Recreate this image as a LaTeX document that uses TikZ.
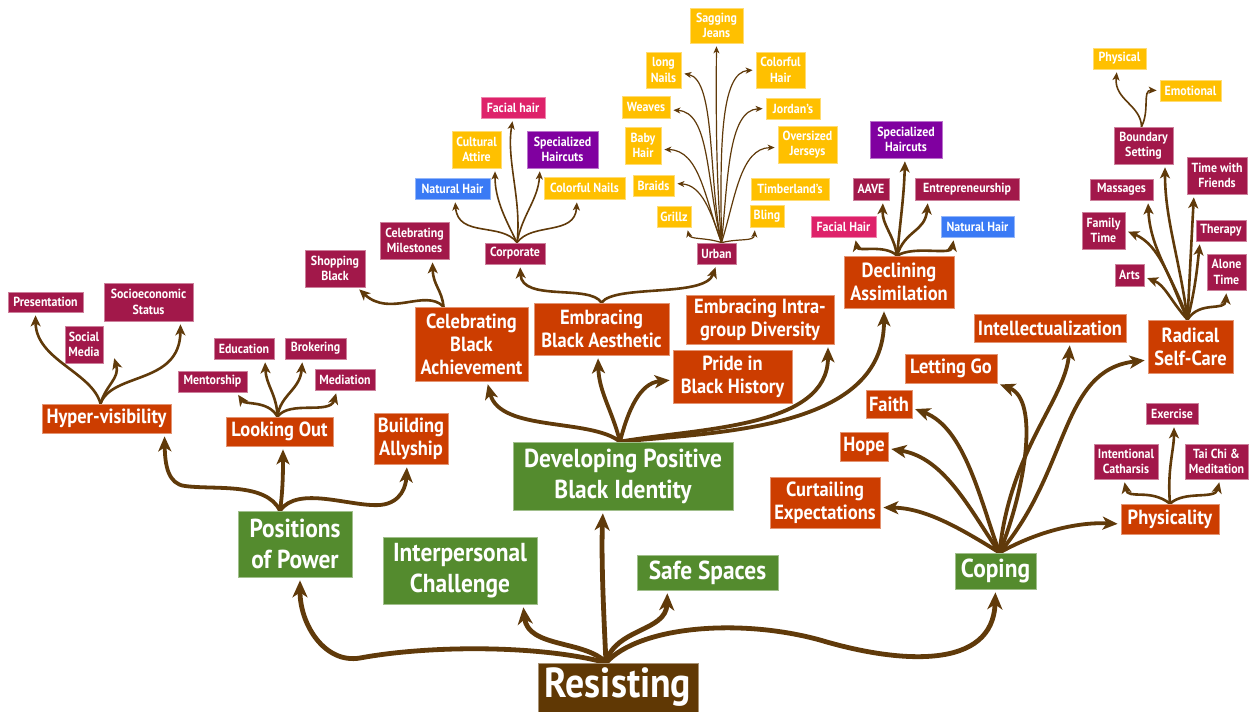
\documentclass[tikz,border=0pt]{standalone}
\usepackage{fontspec}
\setmainfont{PT Sans}[FakeStretch=0.9]
\usetikzlibrary{arrows.meta,calc}
\definecolor{brn}{RGB}{96,58,10}
\definecolor{resbox}{RGB}{96,56,4}
\definecolor{grn}{RGB}{84,139,46}
\definecolor{org}{RGB}{204,61,0}
\definecolor{mar}{RGB}{162,24,74}
\definecolor{yel}{RGB}{255,192,0}
\definecolor{blu}{RGB}{58,122,245}
\definecolor{pur}{RGB}{128,0,160}
\definecolor{pnk}{RGB}{222,34,106}
\pgfdeclarelayer{paper}
\pgfdeclarelayer{bg}
\pgfsetlayers{paper,bg,main}
% box from its corners: name, x1, y1, x2, y2, style, text
\newcommand\bx[7]{\node[#6,minimum width={#4-#2},minimum height={#5-#3}] (#1) at ({(#2+#4)/2},{(#3+#5)/2}) {#7};}
\tikzset{
  bx/.style={rectangle,inner sep=0pt,align=center,text=white,fill=#1,draw=#1!55!white,line width=0.7pt},
  fs/.style={font=\fontsize{13.2}{15.5}\selectfont\bfseries},
  fm/.style={font=\fontsize{20.5}{23}\selectfont\bfseries},
  fl/.style={font=\fontsize{26}{31}\selectfont\bfseries},
  fx/.style={font=\fontsize{42}{48}\selectfont\bfseries},
  conbase/.style={draw=brn,line cap=round,shorten >=3pt},
  cA/.style={conbase,line width=4.8pt,-{Stealth[length=17pt,width=15pt,inset=5pt]}},
  cB/.style={conbase,line width=3.8pt,-{Stealth[length=15pt,width=13pt,inset=4pt]}},
  cC/.style={conbase,line width=2.6pt,-{Stealth[length=11pt,width=10pt,inset=3pt]}},
  cD/.style={conbase,line width=1.6pt,-{Stealth[length=8pt,width=7pt,inset=2pt]}},
  cE/.style={conbase,line width=1.2pt,-{Stealth[length=7pt,width=6pt,inset=2pt]}},
}
\begin{document}
\begin{tikzpicture}[x=1pt,y=-1pt]
\begin{pgfonlayer}{paper}
\fill[white] (0,0) rectangle (1254,712);
\end{pgfonlayer}
\useasboundingbox (0,0) rectangle (1254,712);

% ---- core ----
\bx{res}{538}{663}{698}{712}{bx=resbox,fx}{Resisting}
\bx{pop}{238}{511}{352}{577}{bx=grn,fl}{Positions\\of Power}
\bx{ic}{383}{537}{537}{604}{bx=grn,fl}{Interpersonal\\Challenge}
\bx{dev}{513}{442}{733}{510}{bx=grn,fl}{Developing Positive\\Black Identity}
\bx{ss}{637}{555}{778}{590}{bx=grn,fl}{Safe Spaces}
\bx{cop}{955}{553}{1036}{589}{bx=grn,fl}{Coping}

% ---- second level ----
\bx{hv}{42}{404}{171}{433}{bx=org,fm}{Hyper-visibility}
\bx{lo}{226}{417}{333}{446}{bx=org,fm}{Looking Out}
\bx{ba}{374}{413}{448}{464}{bx=org,fm}{Building\\Allyship}
\bx{cba}{415}{307}{528}{381}{bx=org,fm}{Celebrating\\Black\\Achievement}
\bx{eba}{534}{303}{669}{355}{bx=org,fm}{Embracing\\Black Aesthetic}
\bx{intra}{686}{295}{834}{344}{bx=org,fm}{Embracing Intra-\\group Diversity}
\bx{pride}{673}{350}{792}{403}{bx=org,fm}{Pride in\\Black History}
\bx{decl}{844}{256}{954}{308}{bx=org,fm}{Declining\\Assimilation}
\bx{intel}{974}{314}{1126}{342}{bx=org,fm}{Intellectualization}
\bx{lgo}{905}{354}{997}{383}{bx=org,fm}{Letting Go}
\bx{faith}{866}{390}{912}{418}{bx=org,fm}{Faith}
\bx{hope}{840}{432}{888}{461}{bx=org,fm}{Hope}
\bx{curt}{770}{477}{880}{528}{bx=org,fm}{Curtailing\\Expectations}
\bx{rsc}{1148}{320}{1233}{373}{bx=org,fm}{Radical\\Self-Care}
\bx{phy}{1121}{504}{1219}{534}{bx=org,fm}{Physicality}

% ---- leaves ----
\bx{pres}{8}{292}{83}{312}{bx=mar,fs}{Presentation}
\bx{smed}{65}{326}{103}{363}{bx=mar,fs}{Social\\Media}
\bx{soc}{104}{283}{193}{321}{bx=mar,fs}{Socioeconomic\\Status}
\bx{ment}{178}{371}{247}{392}{bx=mar,fs}{Mentorship}
\bx{edu}{214}{338}{274}{359}{bx=mar,fs}{Education}
\bx{brok}{285}{338}{346}{359}{bx=mar,fs}{Brokering}
\bx{med}{315}{369}{375}{390}{bx=mar,fs}{Mediation}
\bx{shop}{305}{250}{365}{287}{bx=mar,fs}{Shopping\\Black}
\bx{cmil}{380}{222}{449}{259}{bx=mar,fs}{Celebrating\\Milestones}
\bx{corp}{485}{243}{545}{264}{bx=mar,fs}{Corporate}
\bx{urb}{697}{243}{736}{264}{bx=mar,fs}{Urban}
\bx{nh1}{415}{178}{490}{199}{bx=blu,fs}{Natural Hair}
\bx{catt}{452}{131}{501}{168}{bx=yel,fs}{Cultural\\Attire}
\bx{fh1}{481}{97}{545}{118}{bx=pnk,fs}{Facial hair}
\bx{sh1}{527}{131}{598}{168}{bx=pur,fs}{Specialized\\Haircuts}
\bx{cn}{544}{177}{625}{199}{bx=yel,fs}{Colorful Nails}
\bx{sag}{690}{8}{743}{43}{bx=yel,fs}{Sagging\\Jeans}
\bx{lnails}{646}{52}{681}{88}{bx=yel,fs}{long\\Nails}
\bx{chair}{756}{52}{805}{88}{bx=yel,fs}{Colorful\\Hair}
\bx{weaves}{622}{96}{670}{118}{bx=yel,fs}{Weaves}
\bx{jordans}{766}{98}{820}{119}{bx=yel,fs}{Jordan's}
\bx{baby}{625}{127}{661}{164}{bx=yel,fs}{Baby\\Hair}
\bx{overs}{778}{126}{837}{163}{bx=yel,fs}{Oversized\\Jerseys}
\bx{braids}{633}{175}{674}{196}{bx=yel,fs}{Braids}
\bx{timb}{751}{178}{829}{200}{bx=yel,fs}{Timberland's}
\bx{grillz}{657}{206}{691}{227}{bx=yel,fs}{Grillz}
\bx{bling}{750}{205}{784}{227}{bx=yel,fs}{Bling}
\bx{aave}{853}{178}{889}{200}{bx=mar,fs}{AAVE}
\bx{entr}{915}{178}{1019}{200}{bx=mar,fs}{Entrepreneurship}
\bx{sh2}{870}{121}{942}{158}{bx=pur,fs}{Specialized\\Haircuts}
\bx{fh2}{811}{216}{876}{237}{bx=pnk,fs}{Facial Hair}
\bx{nh2}{941}{216}{1014}{237}{bx=blu,fs}{Natural Hair}
\bx{bset}{1114}{127}{1173}{164}{bx=mar,fs}{Boundary\\Setting}
\bx{phys2}{1093}{48}{1146}{69}{bx=yel,fs}{Physical}
\bx{emo}{1160}{80}{1221}{101}{bx=yel,fs}{Emotional}
\bx{mass}{1090}{179}{1153}{200}{bx=mar,fs}{Massages}
\bx{twf}{1187}{157}{1247}{194}{bx=mar,fs}{Time with\\Friends}
\bx{famt}{1082}{212}{1125}{249}{bx=mar,fs}{Family\\Time}
\bx{ther}{1196}{220}{1246}{241}{bx=mar,fs}{Therapy}
\bx{arts}{1115}{264}{1144}{286}{bx=mar,fs}{Arts}
\bx{alone}{1207}{254}{1246}{290}{bx=mar,fs}{Alone\\Time}
\bx{exer}{1146}{403}{1198}{424}{bx=mar,fs}{Exercise}
\bx{icath}{1094}{444}{1158}{479}{bx=mar,fs}{Intentional\\Catharsis}
\bx{taichi}{1185}{444}{1248}{479}{bx=mar,fs}{Tai Chi \&\\Meditation}

\begin{pgfonlayer}{bg}
% Resisting
\draw[cA] ([xshift=-12pt]res.north) .. controls (540,645) and (430,645) .. (360,658) .. controls (325,664) and (300,625) .. ([xshift=5pt]pop.south);
\draw[cA] ([xshift=-12pt]res.north) .. controls (585,640) and (528,648) .. ([xshift=63pt]ic.south);
\draw[cA] ([xshift=-12pt]res.north) .. controls (604,620) and (601,560) .. ([xshift=-20pt]dev.south);
\draw[cA] ([xshift=-12pt]res.north) .. controls (615,628) and (666,632) .. ([xshift=-40pt]ss.south);
\draw[cA] ([xshift=-12pt]res.north) .. controls (640,626) and (740,618) .. (820,640) .. controls (900,664) and (993,670) .. (cop.south);

% Positions of Power
\draw[cB] ([xshift=-15pt]pop.north) .. controls (266,482) and (215,490) .. (185,486) .. controls (168,484) and (165,465) .. ([xshift=58pt]hv.south);
\draw[cB] ([xshift=-15pt]pop.north) .. controls (283,490) and (283,470) .. ([xshift=3.5pt]lo.south);
\draw[cB] ([xshift=-15pt]pop.north) .. controls (298,485) and (350,507) .. (380,505) .. controls (402,503) and (406,485) .. ([xshift=-4pt]ba.south);

% Hyper-visibility
\draw[cC] ([xshift=-6pt]hv.north) .. controls (92,372) and (36,360) .. ([xshift=-10pt]pres.south);
\draw[cC] ([xshift=-6pt]hv.north) .. controls (106,385) and (120,378) .. ([xshift=10pt,yshift=8pt]smed.south east);
\draw[cC] ([xshift=-6pt]hv.north) .. controls (112,372) and (180,385) .. ([xshift=32pt]soc.south);

% Looking Out
\draw[cC] ([xshift=-2pt]lo.north) .. controls (268,400) and (245,405) .. ([xshift=24pt]ment.south);
\draw[cC] ([xshift=-2pt]lo.north) .. controls (277,395) and (266,385) .. ([xshift=21pt]edu.south);
\draw[cC] ([xshift=-2pt]lo.north) .. controls (280,395) and (300,390) .. ([xshift=-13pt]brok.south);
\draw[cC] ([xshift=-2pt]lo.north) .. controls (290,400) and (330,415) .. ([xshift=-8pt]med.south);

% Celebrating Black Achievement
\draw[cC] ([xshift=-28pt]cba.north) .. controls (425,288) and (390,318) .. ([xshift=22pt]shop.south);
\draw[cC] ([xshift=-28pt]cba.north) .. controls (442,290) and (433,285) .. ([xshift=18pt]cmil.south);

% Embracing Black Aesthetic
\draw[cC] (eba.north) .. controls (590,284) and (522,302) .. ([xshift=5pt]corp.south);
\draw[cC] (eba.north) .. controls (615,284) and (705,298) .. (urb.south);

% Corporate
\draw[cD] ([xshift=2pt]corp.north) .. controls (502,222) and (458,238) .. ([xshift=2.5pt]nh1.south);
\draw[cD] ([xshift=2pt]corp.north) .. controls (506,220) and (495,200) .. ([xshift=18.5pt]catt.south);
\draw[cD] ([xshift=2pt]corp.north) .. controls (522,200) and (506,160) .. (fh1.south);
\draw[cD] ([xshift=2pt]corp.north) .. controls (522,215) and (538,200) .. ([xshift=-22.5pt]sh1.south);
\draw[cD] ([xshift=2pt]corp.north) .. controls (532,222) and (575,236) .. ([xshift=-7.5pt]cn.south);

% Urban
\draw[cE] ([xshift=5pt]urb.north) .. controls (716,180) and (716,110) .. (sag.south);
\draw[cE] ([xshift=5pt]urb.north) .. controls (708,180) and (716,80) .. ([yshift=-3pt]lnails.east);
\draw[cE] ([xshift=5pt]urb.north) .. controls (720,150) and (720,72) .. (chair.west);
\draw[cE] ([xshift=5pt]urb.north) .. controls (706,180) and (710,112) .. ([yshift=-3pt]weaves.east);
\draw[cE] ([xshift=5pt]urb.north) .. controls (728,180) and (728,110) .. (jordans.west);
\draw[cE] ([xshift=5pt]urb.north) .. controls (705,200) and (700,150) .. ([yshift=-4pt]baby.east);
\draw[cE] ([xshift=5pt]urb.north) .. controls (735,200) and (740,148) .. ([yshift=-3pt]overs.west);
\draw[cE] ([xshift=5pt]urb.north) .. controls (711,212) and (702,185) .. ([yshift=2pt]braids.east);
\draw[cE] ([xshift=5pt]urb.north) .. controls (705,237) and (690,240) .. ([xshift=13pt]grillz.south);
\draw[cE] ([xshift=5pt]urb.north) .. controls (740,238) and (754,242) .. ([xshift=-12pt]bling.south);

% Declining Assimilation
\draw[cC] ([xshift=-2pt]decl.north) .. controls (885,244) and (858,252) .. ([xshift=11.5pt]fh2.south);
\draw[cC] ([xshift=-2pt]decl.north) .. controls (894,235) and (882,225) .. ([xshift=12pt]aave.south);
\draw[cC] ([xshift=-2pt]decl.north) .. controls (901,215) and (904,195) .. ([xshift=-1pt]sh2.south);
\draw[cC] ([xshift=-2pt]decl.north) .. controls (905,230) and (925,232) .. ([xshift=-39pt]entr.south);
\draw[cC] ([xshift=-2pt]decl.north) .. controls (915,245) and (951,256) .. ([xshift=-23.5pt]nh2.south);

% Developing Positive Black Identity
\draw[cB] ([xshift=-3pt]dev.north) .. controls (590,418) and (500,432) .. ([xshift=15.5pt]cba.south);
\draw[cB] ([xshift=-3pt]dev.north) .. controls (612,410) and (599,392) .. ([xshift=-3.5pt]eba.south);
\draw[cB] ([xshift=-3pt]dev.north) .. controls (628,410) and (640,383) .. ([yshift=-3.5pt]pride.west);
\draw[cB] ([xshift=-3pt]dev.north) .. controls (700,428) and (828,428) .. ([xshift=68pt]intra.south);
\draw[cB] ([xshift=-3pt]dev.north) .. controls (725,432) and (884,428) .. ([xshift=-15pt]decl.south);

% Coping
\draw[cB] ([xshift=4pt]cop.north) .. controls (960,528) and (925,508) .. ([yshift=-5pt]curt.east);
\draw[cB] ([xshift=4pt]cop.north) .. controls (970,510) and (945,458) .. ([yshift=-2pt]hope.east);
\draw[cB] ([xshift=4pt]cop.north) .. controls (980,500) and (965,428) .. ([yshift=-4pt]faith.east);
\draw[cB] ([xshift=4pt]cop.north) .. controls (1025,490) and (1040,400) .. (lgo.south east);
\draw[cB] ([xshift=4pt]cop.north) .. controls (1010,450) and (1065,400) .. ([xshift=20pt]intel.south);
\draw[cB] ([xshift=4pt]cop.north) .. controls (1070,470) and (1060,370) .. ([yshift=-13.5pt]rsc.west);
\draw[cB] ([xshift=4pt]cop.north) .. controls (1040,530) and (1080,522) .. ([yshift=-5pt]phy.west);

% Physicality
\draw[cC] (phy.north) .. controls (1150,488) and (1128,500) .. ([xshift=-2pt]icath.south);
\draw[cC] (phy.north) .. controls (1167,470) and (1174,450) .. ([xshift=2pt]exer.south);
\draw[cC] (phy.north) .. controls (1185,490) and (1215,500) .. ([xshift=3.5pt]taichi.south);

% Radical Self-Care
\draw[cC] ([xshift=-3pt]rsc.north) .. controls (1170,300) and (1165,285) .. ([yshift=-2pt]arts.east);
\draw[cC] ([xshift=-3pt]rsc.north) .. controls (1170,280) and (1160,245) .. (famt.east);
\draw[cC] ([xshift=-3pt]rsc.north) .. controls (1175,280) and (1150,250) .. ([xshift=26.5pt]mass.south);
\draw[cC] ([xshift=-3pt]rsc.north) .. controls (1180,260) and (1165,220) .. ([xshift=21.5pt]bset.south);
\draw[cC] ([xshift=-3pt]rsc.north) .. controls (1190,270) and (1192,230) .. ([xshift=-23pt]twf.south);
\draw[cC] ([xshift=-3pt]rsc.north) .. controls (1195,290) and (1197,270) .. ([xshift=-21pt]ther.south);
\draw[cC] ([xshift=-3pt]rsc.north) .. controls (1200,300) and (1225,312) .. (alone.south);

% Boundary Setting
\draw[cD] ([xshift=-2pt]bset.north) .. controls (1141,105) and (1114,100) .. ([xshift=-2.5pt]phys2.south);
\draw[cD] ([xshift=-2pt]bset.north) .. controls (1150,110) and (1142,90) .. (emo.west);
\end{pgfonlayer}
\end{tikzpicture}
\end{document}
